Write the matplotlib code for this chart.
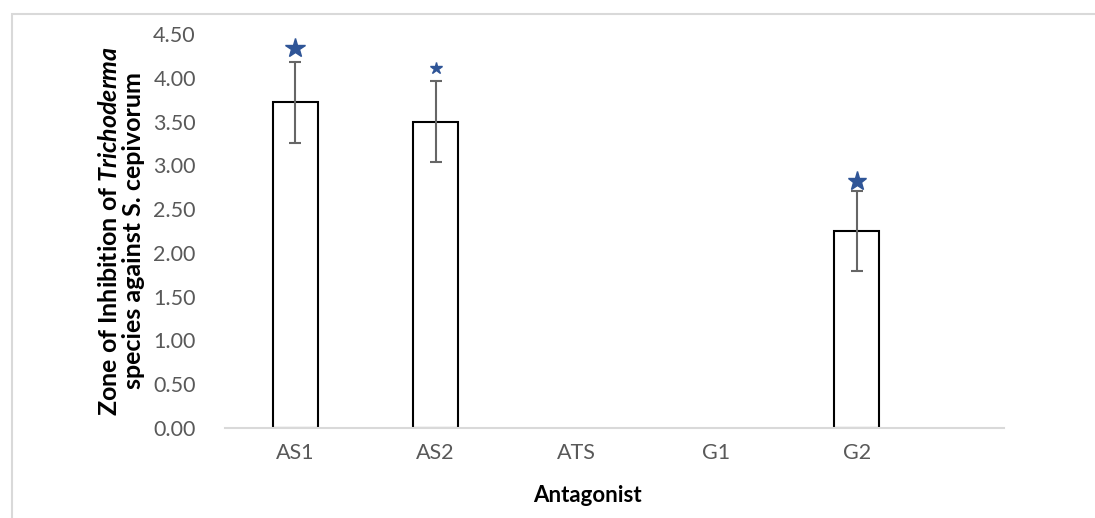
import matplotlib.pyplot as plt
from matplotlib.patches import Rectangle

plt.rcParams['font.family'] = ['Lato', 'DejaVu Sans']
plt.rcParams['mathtext.fontset'] = 'custom'
plt.rcParams['mathtext.it'] = 'Lato:bold:italic'

categories = ['AS1', 'AS2', 'ATS', 'G1', 'G2']
zone = [3.72, 3.50, 0.0, 0.0, 2.25]
errors = [0.46, 0.46, 0.0, 0.0, 0.46]
star_heights = [4.34, 4.11, None, None, 2.82]
star_sizes = [15, 9, 14, 0, 14]
y_ticks = [0.0, 0.5, 1.0, 1.5, 2.0, 2.5, 3.0, 3.5, 4.0, 4.5]

fig = plt.figure(figsize=(10.95, 5.18), dpi=100)
ax = fig.add_axes([0.2055, 0.1737, 0.7114, 0.7607])

x = list(range(len(categories)))
for i in x:
    if zone[i] > 0:
        ax.bar(i, zone[i], width=0.32, facecolor='white', edgecolor='black', linewidth=1.5, zorder=2)
        ax.errorbar(i, zone[i], yerr=errors[i], fmt='none', ecolor='#666666',
                    elinewidth=1.5, capsize=4, capthick=1.5, zorder=3)
    if star_heights[i] is not None:
        ax.plot(i, star_heights[i], marker='*', markersize=star_sizes[i], color='#2f5597',
                linestyle='none', zorder=4, clip_on=False)

ax.set_xlim(-0.5, 5.05)
ax.set_ylim(0, 4.5)
ax.set_xticks(x)
ax.set_xticklabels(categories)
ax.set_yticks(y_ticks)
ax.set_yticklabels(['%.2f' % v for v in y_ticks])
ax.tick_params(axis='both', length=0, labelsize=15.5, colors='#595959')
ax.tick_params(axis='x', pad=11)
ax.tick_params(axis='y', pad=21)

for s in ['top', 'right', 'left']:
    ax.spines[s].set_visible(False)
ax.spines['bottom'].set_color('#d9d9d9')
ax.spines['bottom'].set_linewidth(1.5)

ax.set_xlabel('Antagonist', fontsize=16, fontweight='bold', color='black')
ax.xaxis.set_label_coords(0.465, -0.145)
ax.set_ylabel('Zone of Inhibition of $\\mathit{Trichoderma}$\nspecies against S. cepivorum',
              fontsize=18, fontweight='bold', color='black', labelpad=6, linespacing=1.05)

fig.patches.append(Rectangle((12 / 1095, -0.1), 1.2, 1.1 - 14 / 518, transform=fig.transFigure,
                             fill=False, edgecolor='#d9d9d9', linewidth=1.5))

fig.savefig('out.png', dpi=100)
